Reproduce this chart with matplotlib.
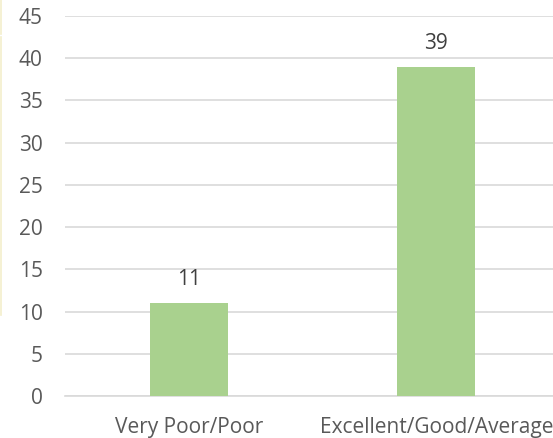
import matplotlib
matplotlib.use("Agg")
import matplotlib.pyplot as plt
from matplotlib.lines import Line2D

categories = ["Very Poor/Poor", "Excellent/Good/Average"]
values = [11, 39]
y_ticks = list(range(0, 50, 5))

W, H = 553, 438
fig = plt.figure(figsize=(W / 100, H / 100), dpi=100)

# plot area (pixel bounds): left 65, right 560 (runs past the edge), y=0 at 396, y=45 at 16
left, right, bottom, top = 65, 560, 396, 16
ax = fig.add_axes([left / W, 1 - bottom / H, (right - left) / W, (bottom - top) / H])

font = "Open Sans"
text_color = "#595959"
fs = 15

x = range(len(categories))
ax.bar(x, values, width=0.315, color="#a9d18e", zorder=3)
for xi, v in zip(x, values):
    ax.text(xi, v + 1.5, str(v), ha="center", va="bottom", fontsize=fs,
            color="#404040", family=font)

ax.set_xlim(-0.5, len(categories) - 0.5)
ax.set_ylim(0, 45)
ax.set_yticks(y_ticks)
ax.set_yticklabels([str(t) for t in y_ticks], family=font, fontsize=fs, color=text_color)
ax.set_xticks(list(x))
ax.set_xticklabels(categories, family=font, fontsize=fs, color=text_color)
ax.tick_params(axis="both", length=0)
ax.tick_params(axis="y", pad=16)
ax.tick_params(axis="x", pad=15)

ax.grid(axis="y", color="#d9d9d9", linewidth=1.2, zorder=0)
for s in ["top", "right", "left"]:
    ax.spines[s].set_visible(False)
ax.spines["bottom"].set_color("#d9d9d9")
ax.spines["bottom"].set_linewidth(1.2)

# faint border fragment along the left edge
fig.add_artist(Line2D([0.6 / W, 0.6 / W], [1 - 0 / H, 1 - 34 / H],
                      transform=fig.transFigure, color="#f3efcc", linewidth=1.2))
fig.add_artist(Line2D([0.6 / W, 0.6 / W], [1 - 37 / H, 1 - 315 / H],
                      transform=fig.transFigure, color="#f3efcc", linewidth=1.2))

fig.savefig("out.png", dpi=100)
